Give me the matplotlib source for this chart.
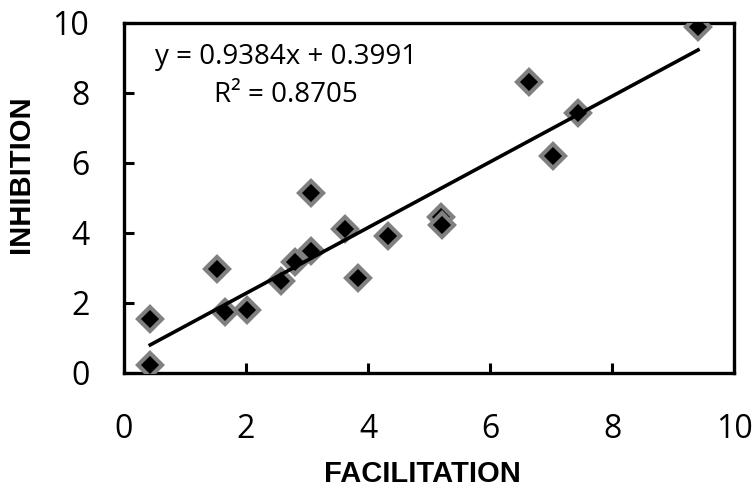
import numpy as np
import matplotlib.pyplot as plt

# values
facilitation = [0.43, 0.43, 1.53, 1.66, 2.02, 2.58, 2.81, 3.06, 3.07, 3.62,
                3.83, 4.32, 5.20, 5.22, 6.64, 7.04, 7.45, 9.41]
inhibition = [1.53, 0.24, 2.97, 1.73, 1.81, 2.64, 3.18, 3.49, 5.15, 4.10,
              2.70, 3.90, 4.46, 4.22, 8.32, 6.21, 7.42, 9.89]
slope = 0.9384
intercept = 0.3991
r2 = 0.8705
ticks = [0, 2, 4, 6, 8, 10]

fig = plt.figure(figsize=(7.53, 4.88), dpi=100)
ax = fig.add_axes([0.1647, 0.2357, 0.8101, 0.7172])

ax.plot(facilitation, inhibition, linestyle='none', marker='D', ms=12.5,
        mfc='black', mec='#808080', mew=3, zorder=3)

xs = np.array([min(facilitation), max(facilitation)])
ax.plot(xs, slope * xs + intercept, color='black', lw=2.6, zorder=4)

ax.set_xlim(0, 10)
ax.set_ylim(0, 10)
ax.set_xticks(ticks)
ax.set_yticks(ticks)
for s in ax.spines.values():
    s.set_linewidth(2.4)
ax.tick_params(direction='in', length=7, width=2.2, labelsize=23)
ax.tick_params(axis='x', pad=29)
ax.tick_params(axis='y', pad=25)
for lab in ax.get_xticklabels() + ax.get_yticklabels():
    lab.set_fontfamily('Open Sans')

ax.set_xlabel('FACILITATION', fontsize=21, fontweight='bold',
              family='Liberation Sans', va='center')
ax.set_ylabel('INHIBITION', fontsize=21, fontweight='bold',
              family='Liberation Sans', va='center')
ax.xaxis.set_label_coords(0.49, -0.289)
ax.yaxis.set_label_coords(-0.169, 0.567)

ax.text(0.265, 0.904, f'y = {slope}x + {intercept}', transform=ax.transAxes,
        ha='center', va='center', fontsize=20, family='Open Sans')
ax.text(0.265, 0.794, f'R² = {r2}', transform=ax.transAxes,
        ha='center', va='center', fontsize=20, family='Open Sans')

fig.savefig('out.png', dpi=100)
